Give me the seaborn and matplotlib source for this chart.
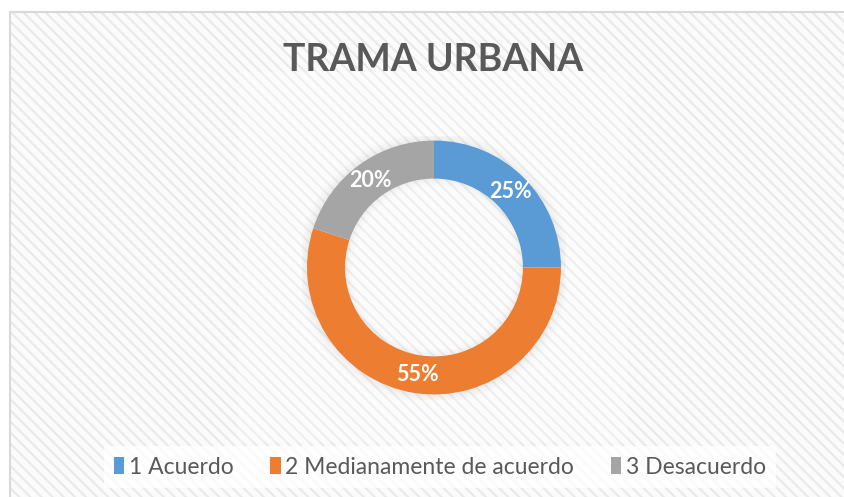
import matplotlib
matplotlib.use("Agg")
import matplotlib.pyplot as plt
import seaborn as sns
from matplotlib.patches import Rectangle, Wedge

# data
labels = ["1 Acuerdo", "2 Medianamente de acuerdo", "3 Desacuerdo"]
values = [25, 55, 20]
colors = ["#5B9BD5", "#ED7D31", "#A5A5A5"]
title = "TRAMA URBANA"

sns.set_theme(style="white")
plt.rcParams["font.family"] = ["Lato", "DejaVu Sans"]
plt.rcParams["hatch.linewidth"] = 1.5

W, H = 845, 497
fig = plt.figure(figsize=(W / 100, H / 100), dpi=100)
fig.patch.set_facecolor("white")


def fx(px):
    return px / W


def fy(py):
    return 1 - py / H


# chart area: light diagonal stripes + thin border
bg = Rectangle((fx(10), 0), 1 - fx(10), fy(12), transform=fig.transFigure,
               facecolor="#fbfbfb", edgecolor="#e9e9e9", hatch="\\\\\\", lw=0, zorder=-10)
fig.patches.append(bg)
border = Rectangle((fx(10), -0.01), 1.02 - fx(10), fy(12) + 0.01, transform=fig.transFigure,
                   facecolor="none", edgecolor="#d9d9d9", lw=1.5, zorder=-9)
fig.patches.append(border)
plot_area = Rectangle((fx(238), fy(442)), fx(628) - fx(238), fy(72) - fy(442),
                      transform=fig.transFigure, facecolor="white", alpha=0.25, lw=0, zorder=-8)
fig.patches.append(plot_area)

# donut axes
cx, cy, R, half = 434, 267.5, 127, 132
ax = fig.add_axes([fx(cx - half), fy(cy + half), 2 * half / W, 2 * half / H])
ax.set_zorder(5)
ax.patch.set_alpha(0)

# soft shadow outside and inside the ring
n = 10
for i in range(n):
    a = 0.06 * (1 - i / n) ** 2
    ax.add_patch(Wedge((0, 0), 1.0 + 0.01 * (i + 1), 0, 360, width=0.01,
                       facecolor="black", alpha=a, lw=0, zorder=1))
    ax.add_patch(Wedge((0, 0), 0.70 - 0.008 * i, 0, 360, width=0.008,
                       facecolor="black", alpha=a * 0.8, lw=0, zorder=1))

wedges, texts, autotexts = ax.pie(
    values, colors=colors, startangle=90, counterclock=False, radius=1,
    wedgeprops=dict(width=0.30, linewidth=0, zorder=2),
    autopct=lambda p: f"{p:.0f}%", pctdistance=0.85,
    textprops=dict(color="white", fontsize=15.5, fontweight="bold"))
for t in autotexts:
    t.set_zorder(3)
ax.set_xlim(-half / R, half / R)
ax.set_ylim(-half / R, half / R)
ax.axis("off")

fig.text(fx(433), fy(60), title, ha="center", va="center",
         fontsize=27, fontweight="bold", color="#595959", zorder=6)

leg = fig.legend(wedges, labels, loc="center", bbox_to_anchor=(fx(440), fy(467)),
                 ncol=3, frameon=True, fontsize=16.5, handlelength=0.45, handleheight=0.75,
                 handletextpad=0.2, columnspacing=1.6, labelcolor="#595959",
                 borderpad=0.45, fancybox=False)
leg.set_zorder(6)
leg.get_frame().set_facecolor("white")
leg.get_frame().set_edgecolor("none")
leg.get_frame().set_alpha(0.8)

fig.savefig("out.png", dpi=100, facecolor="white")
